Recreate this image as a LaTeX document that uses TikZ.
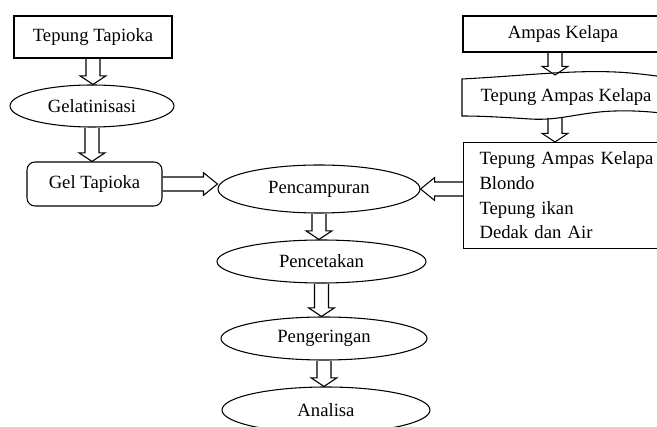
\documentclass[tikz,border=0pt]{standalone}
\usepackage{fontspec}
\setmainfont{Liberation Serif}
\usetikzlibrary{shapes.geometric,calc}

\newcommand{\downblock}[2]{%
	\draw[blockarrow] let \p1=(#1), \p2=(#2) in
		(\x1-5.25pt,\y1) -- (\x1-5.25pt,\y2+6.5pt) -- (\x1-9.75pt,\y2+6.5pt) -- (\x1,\y2)
		-- (\x1+9.75pt,\y2+6.5pt) -- (\x1+5.25pt,\y2+6.5pt) -- (\x1+5.25pt,\y1);}
\newcommand{\rightblock}[2]{%
	\draw[blockarrow] let \p1=(#1), \p2=(#2) in
		(\x1,\y1+5.25pt) -- (\x2-10.5pt,\y1+5.25pt) -- (\x2-10.5pt,\y1+8.5pt) -- (\x2,\y1)
		-- (\x2-10.5pt,\y1-8.5pt) -- (\x2-10.5pt,\y1-5.25pt) -- (\x1,\y1-5.25pt);}
\newcommand{\leftblock}[2]{%
	\draw[blockarrow] let \p1=(#1), \p2=(#2) in
		(\x2,\y1+5.25pt) -- (\x1+10.5pt,\y1+5.25pt) -- (\x1+10.5pt,\y1+8.5pt) -- (\x1,\y1)
		-- (\x1+10.5pt,\y1-8.5pt) -- (\x1+10.5pt,\y1-5.25pt) -- (\x2,\y1-5.25pt);}

\begin{document}
\begin{tikzpicture}[x=0.75pt,y=-0.75pt,line width=0.8pt,
		font=\fontsize{14}{18.5}\selectfont,
		box/.style={draw},
		oval/.style={draw,ellipse,inner sep=0pt},
		blockarrow/.style={draw,line join=miter}]
		\useasboundingbox (0,0) rectangle (657,427);
		\clip (0,0) rectangle (657,427);
		\node[box, minimum width=118.5pt, minimum height=31.5pt] (tapioka) at (93,37) {Tepung Tapioka};
		\node[oval, minimum width=123pt, minimum height=31.5pt] (gelatin) at (92,106) {Gelatinisasi};
		\node[box, rounded corners=6pt, minimum width=101.25pt, minimum height=33pt] (gel) at (94.5,184) {Gel Tapioka};
		\node[oval, minimum width=151.5pt, minimum height=36pt] (campur) at (319,189) {Pencampuran};
		\node[oval, minimum width=156.75pt, minimum height=32.25pt] (cetak) at (321.5,261.5) {Pencetakan};
		\node[oval, minimum width=154.5pt, minimum height=32.25pt] (kering) at (324,338.5) {Pengeringan};
		\node[oval, minimum width=156pt, minimum height=34.5pt] (analisa) at (326,410) {Analisa};
		\node[box, minimum width=150pt, minimum height=27pt] (ampas) at (563,34) {Ampas Kelapa};
		\draw (462,79) .. controls (520,76) and (570,70) .. (615,72) .. controls (640,73) and (670,78) .. (700,82)
			-- (700,118) .. controls (670,114) and (645,110) .. (615,111) .. controls (580,112) and (560,121) .. (530,119)
			.. controls (500,117) and (480,116) .. (462,116) -- cycle;
		\node (tepung) at (566,97) {Tepung Ampas Kelapa};
		\coordinate (tapetop) at (555,75);
		\coordinate (tapebot) at (555,118);
		\node[box, anchor=north west, minimum height=79.5pt, text width=150pt, inner xsep=12pt, align=left] (mix) at (463,142)
			{Tepung Ampas Kelapa\\Blondo\\Tepung ikan\\Dedak dan Air};
		\downblock{tapioka.south}{gelatin.north}
		\downblock{gelatin.south}{gel.north}
		\rightblock{gel.east}{campur.west}
		\leftblock{campur.east}{mix.west}
		\downblock{tapetop |- ampas.south}{tapetop}
		\downblock{tapebot}{mix.north}
		\downblock{campur.south}{cetak.north}
		\downblock{cetak.south}{kering.north}
		\downblock{kering.south}{analisa.north}
	\end{tikzpicture}
\end{document}
